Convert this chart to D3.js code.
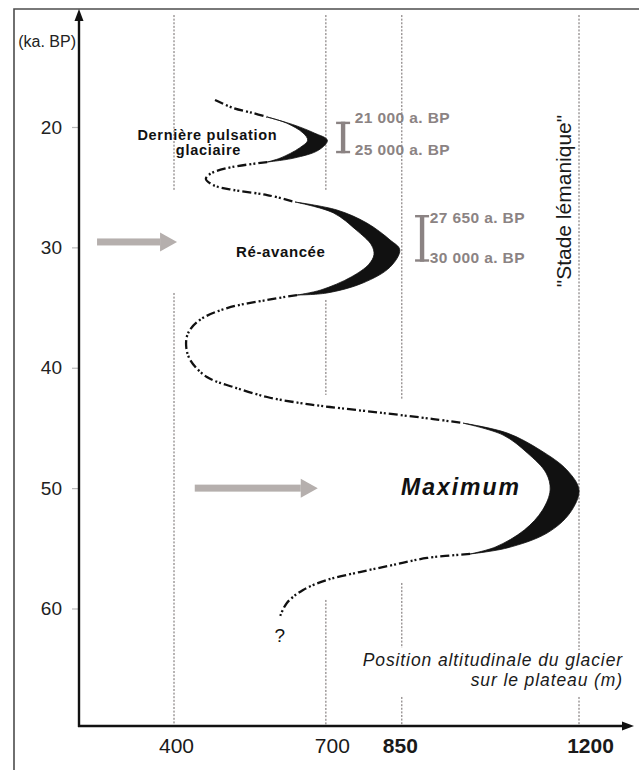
<!DOCTYPE html>
<html><head><meta charset="utf-8">
<script src="https://cdn.jsdelivr.net/npm/d3@7"></script>
<style>body{margin:0;background:#fff}svg{display:block}text{font-family:"Liberation Sans",Arial,Helvetica,sans-serif}</style>
</head><body><svg id="c" width="639" height="770"></svg>
<script>
// ---------- data (ka BP, altitude m) ----------
const yTicks = [20, 30, 40, 50, 60];
const xTicks = [400, 700, 850, 1200];
const xBoldTicks = [850, 1200];
// visible spans (ka) of the vertical reference lines
const grid400 = [[10.7, 25.23], [33.79, 69.8]];
const grid700 = [[10.7, 25.23], [34.37, 42.26], [59.29, 69.8]];
const grid850 = [[10.7, 42.68], [57.88, 63.28], [67.35, 69.8]];
const grid1200 = [[10.7, 63.45], [67.35, 69.8]];
// dash-dot stretches of the glacier curve: [ka, m]
const seg1 = [[17.76,481],[18.42,517],[18.84,556],[19.17,584]];
const seg2 = [[22.91,584],[23.41,505],[23.9,471],[24.32,463],[24.82,477],[25.23,517],[25.65,584],[26.23,639]];
const seg3 = [[33.96,643],[34.37,584],[35.04,505],[36.03,451],[37.11,428],[38.19,424],[39.35,432],[40.77,465],[41.6,517],[42.43,584],[42.93,649],[43.26,708],[43.76,813],[44.26,912],[44.6,971]];
const seg4 = [[55.47,985],[55.8,900],[56.38,833],[56.97,767],[57.63,702],[58.46,655],[59.54,623],[60.7,609]];
// glacial advances (black crescents): outer and inner edges
const c1Outer = [[19.17,584],[19.83,637],[20.5,677],[21.1,703],[21.91,686],[22.58,637],[22.91,584]];
const c1Inner = [[19.17,584],[19.67,622],[20.5,655],[21.1,664],[21.74,648],[22.58,610],[22.91,584]];
const c2Outer = [[26.23,639],[26.9,722],[27.98,781],[29.39,827],[30.2,846],[31.63,827],[32.96,773],[33.79,702],[33.96,643]];
const c2Inner = [[26.23,639],[27.14,715],[28.56,760],[29.8,790],[30.6,795],[31.4,785],[32.46,750],[33.54,690],[33.96,643]];
const c3Outer = [[44.6,971],[45.42,1058],[46.83,1123],[48.49,1176],[50.16,1200],[52.07,1182],[53.73,1137],[54.97,1058],[55.47,985]];
const c3Inner = [[44.6,971],[45.59,1050],[47.08,1098],[48.74,1135],[50.16,1143],[51.82,1128],[53.48,1092],[54.89,1035],[55.47,985]];
// dating brackets [ka top, ka bottom, m] and labels
const bracketSpans = [[19.56, 22.18, 734], [27.31, 31.19, 890]];
const dateLabels = ["21 000 a. BP", "25 000 a. BP", "27 650 a. BP", "30 000 a. BP"];
const dateKa = [19.69, 22.33, 28.0, 31.27];
const dateM = [757, 757, 905, 905];
// gray arrows [ka, m start, m end]
const arrows = [[29.55, 248, 406], [50.0, 441, 684]];

// ---------- layout ----------
const W = 639, H = 770;
const axL = 79, axB = 726, axT = 9, axR = 634;
const tickDx = {400: 2, 700: 6, 850: -2, 1200: 11};
const svg = d3.select("#c");
const x = d3.scaleLinear().domain([400, 1200]).range([174, 579]);
const y = d3.scaleLinear().domain([20, 60]).range([127, 608.5]);

svg.append("rect").attr("width", W).attr("height", H).attr("fill", "#fff");
// frame
svg.append("path").attr("d", `M14,${H+2}V9H${W+2}`).attr("fill", "none")
   .attr("stroke", "#4d4d4d").attr("stroke-width", 1.6);

// reference lines
const grids = [[400, grid400], [700, grid700], [850, grid850], [1200, grid1200]];
grids.forEach(([v, spans]) => {
  svg.append("g").selectAll("line").data(spans).join("line")
    .attr("x1", x(v)).attr("x2", x(v))
    .attr("y1", d => y(d[0])).attr("y2", d => Math.min(axB, y(d[1])))
    .attr("stroke", "#6f6868").attr("stroke-width", 1)
    .attr("stroke-dasharray", "2,1.6");
});

// arrows
const g0 = svg.append("g").attr("fill", "#b5afad");
arrows.forEach(([ka, m0, m1]) => {
  const yc = y(ka), xa = x(m0), xb = x(m1), hl = 17;
  g0.append("rect").attr("x", xa).attr("y", yc - 3.5).attr("width", xb - hl - xa).attr("height", 7);
  g0.append("path").attr("d", `M${xb-hl},${yc-9.5}L${xb},${yc}L${xb-hl},${yc+9.5}Z`);
});

// curve
const line = d3.line().x(d => x(d[1])).y(d => y(d[0])).curve(d3.curveCatmullRom.alpha(0.5));
[seg1, seg2, seg3, seg4].forEach(s => {
  svg.append("path").attr("d", line(s)).attr("fill", "none")
    .attr("stroke", "#111").attr("stroke-width", 2.3)
    .attr("stroke-dasharray", "9,3,2,2,2,3");
});
[[c1Outer, c1Inner], [c2Outer, c2Inner], [c3Outer, c3Inner]].forEach(([o, i]) => {
  const d = line(o) + line(i.slice().reverse()).replace(/^M/, "L") + "Z";
  svg.append("path").attr("d", d).attr("fill", "#111").attr("stroke", "#111").attr("stroke-width", 0.8);
});

// brackets
const gb = svg.append("g").attr("fill", "#8b8383");
bracketSpans.forEach(([a, b, m]) => {
  const xc = x(m), y1 = y(a), y2 = y(b);
  gb.append("rect").attr("x", xc - 2.2).attr("y", y1).attr("width", 4.4).attr("height", y2 - y1);
  gb.append("rect").attr("x", xc - 7).attr("y", y1).attr("width", 14).attr("height", 2.4);
  gb.append("rect").attr("x", xc - 7).attr("y", y2 - 2.4).attr("width", 14).attr("height", 2.4);
});
svg.append("g").selectAll("text").data(dateLabels).join("text")
  .attr("x", (d, i) => x(dateM[i])).attr("y", (d, i) => y(dateKa[i]))
  .attr("fill", "#8b8383").attr("font-weight", "bold").attr("font-size", 15.5)
  .attr("letter-spacing", 0.4).text(d => d);

// axes
const yAxis = d3.axisLeft(y).tickValues(yTicks).tickSize(7).tickPadding(10).tickFormat(d3.format("d"));
const ga = svg.append("g").attr("transform", `translate(${axL},0)`).call(yAxis);
ga.select(".domain").remove();
ga.selectAll(".tick line").attr("stroke", "#b9b9b9").attr("stroke-width", 1.2);
ga.selectAll(".tick text").attr("font-size", 19).attr("fill", "#222")
  .style("font-family", '"Liberation Sans",Arial,sans-serif');

const xAxis = d3.axisBottom(x).tickValues(xTicks).tickSize(0).tickPadding(12).tickFormat(d3.format("d"));
const gx = svg.append("g").attr("transform", `translate(0,${axB})`).call(xAxis);
gx.select(".domain").remove();
gx.selectAll(".tick text").attr("font-size", 21).attr("fill", "#1a1a1a")
  .attr("dx", d => tickDx[d] || 0)
  .attr("font-weight", d => xBoldTicks.includes(d) ? "bold" : "normal")
  .style("font-family", '"Liberation Sans",Arial,sans-serif');

svg.append("line").attr("x1", axL).attr("x2", axL).attr("y1", axT + 8).attr("y2", axB + 1)
  .attr("stroke", "#111").attr("stroke-width", 2.4);
svg.append("path").attr("d", `M${axL},${axT}L${axL+4.5},${axT+12}L${axL-4.5},${axT+12}Z`).attr("fill", "#111");
svg.append("line").attr("x1", axL - 1).attr("x2", axR - 8).attr("y1", axB).attr("y2", axB)
  .attr("stroke", "#111").attr("stroke-width", 2.4);
svg.append("path").attr("d", `M${axR},${axB}L${axR-12},${axB-4.5}L${axR-12},${axB+4.5}Z`).attr("fill", "#111");

svg.append("text").attr("x", axL - 3).attr("y", 47).attr("text-anchor", "end")
  .attr("font-size", 16).attr("fill", "#222").text("(ka. BP)");

// annotations
svg.append("text").attr("x", x(466)).attr("y", y(21.05)).attr("text-anchor", "middle")
  .attr("font-size", 14.5).attr("font-weight", "bold").attr("letter-spacing", 0.7).attr("fill", "#111")
  .text("Dernière pulsation");
svg.append("text").attr("x", x(468)).attr("y", y(22.35)).attr("text-anchor", "middle")
  .attr("font-size", 14.5).attr("font-weight", "bold").attr("letter-spacing", 0.7).attr("fill", "#111")
  .text("glaciaire");

svg.append("text").attr("x", x(611)).attr("y", y(30.8)).attr("text-anchor", "middle")
  .attr("font-size", 15).attr("font-weight", "bold").attr("letter-spacing", 0.6).attr("fill", "#111")
  .text("Ré-avancée");

svg.append("text").attr("x", x(967)).attr("y", y(50.57)).attr("text-anchor", "middle")
  .attr("font-size", 23).attr("font-weight", "bold").attr("font-style", "italic")
  .attr("letter-spacing", 2).attr("fill", "#111").text("Maximum");

svg.append("text").attr("transform", `translate(${x(1184)},${y(26.15)}) rotate(-90)`)
  .attr("text-anchor", "middle").attr("font-size", 21).attr("fill", "#1a1a1a")
  .text("\"Stade lémanique\"");

const t2 = svg.append("text").attr("text-anchor", "end").attr("font-size", 17.5)
  .attr("font-style", "italic").attr("letter-spacing", 0.9).attr("fill", "#1a1a1a");
t2.append("tspan").attr("x", x(1287)).attr("y", y(64.78)).text("Position altitudinale du glacier");
t2.append("tspan").attr("x", x(1287)).attr("y", y(66.44)).text("sur le plateau (m)");

svg.append("text").attr("x", x(609)).attr("y", y(62.78)).attr("text-anchor", "middle")
  .attr("font-size", 19).attr("fill", "#111").text("?");
</script></body></html>
